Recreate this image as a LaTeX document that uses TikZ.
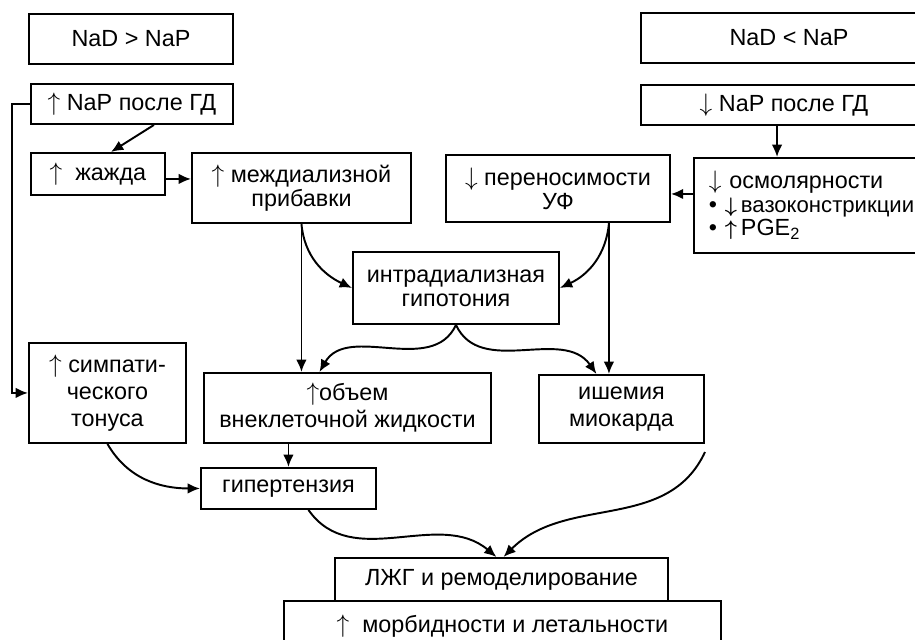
\documentclass[tikz,border=0pt]{standalone}
\usepackage{fontspec}
\setmainfont{Liberation Sans}
\usetikzlibrary{arrows.meta}
\newdimen\pxu \pxu=0.02cm
\newcommand{\upar}{$\uparrow$}
\newcommand{\dnar}{$\downarrow$}
\newcommand{\smallar}[1]{{\fontsize{12.5}{12.5}\selectfont\boldmath$#1$}}

\tikzset{
  blk/.style={draw, line width=1.1pt, anchor=north west, align=center, inner sep=2pt,
    font=\fontsize{13.3}{13.6}\selectfont},
  arr/.style={line width=1.1pt, -{Latex[length=7pt,width=6pt]}},
}

\begin{document}
\begin{tikzpicture}[x=\pxu, y=-\pxu]
  \useasboundingbox (0,0) rectangle (915,639);
  % left column: NaD > NaP
  \node[blk, minimum width=204\pxu, minimum height=50\pxu] (nadgt) at (28,13) {NaD > NaP};
  \node[blk, minimum width=202\pxu, minimum height=40\pxu] (naup) at (30,83) {\upar\ NaP после ГД};
  \node[blk, minimum width=134\pxu, minimum height=42\pxu] (thirst) at (30,152) {\upar\ \ жажда};
  \node[blk, minimum width=219\pxu, minimum height=70\pxu] (idwg) at (191,152) {\upar\ междиализной\\прибавки};
  % right column: NaD < NaP
  \node[blk, minimum width=296\pxu, minimum height=50\pxu] (nadlt) at (640,12) {NaD < NaP};
  \node[blk, minimum width=286\pxu, minimum height=40\pxu] (napdown) at (640,84) {\dnar\ NaP после ГД};
  \node[blk, align=left, inner xsep=15\pxu, text width=235\pxu, minimum height=95\pxu,
    font=\fontsize{13.3}{13.4}\selectfont] (osm) at (693,157)
    {\dnar\ осмолярности\\
     • \smallar{\downarrow}\,{\fontsize{12.6}{13}\selectfont вазоконстрикции}\\
     • \smallar{\uparrow}\,PGE\textsubscript{2}};
  \node[blk, minimum width=224\pxu, minimum height=67\pxu] (uftol) at (445,154) {\dnar\ переносимости\\УФ};
  % middle
  \node[blk, minimum width=206\pxu, minimum height=72\pxu] (idh) at (352,251) {интрадиализная\\гипотония};
  \node[blk, minimum width=157\pxu, minimum height=100\pxu, font=\fontsize{13.3}{15.3}\selectfont] (symp) at (28,342) {\upar\ симпати-\\ческого\\тонуса};
  \node[blk, minimum width=287\pxu, minimum height=70\pxu, font=\fontsize{13.3}{15.3}\selectfont] (ecv) at (203,372) {\upar объем\\внеклеточной жидкости};
  \node[blk, minimum width=165\pxu, minimum height=68\pxu, font=\fontsize{13.3}{15.3}\selectfont] (isch) at (538,374) {ишемия\\миокарда};
  \node[blk, minimum width=175\pxu, minimum height=41\pxu] (htn) at (200,467) {гипертензия};
  % bottom
  \node[blk, minimum width=333\pxu, minimum height=43\pxu] (lvh) at (334,557) {ЛЖГ и ремоделирование};
  \node[blk, minimum width=437\pxu, minimum height=50\pxu] (morb) at (283,600) {\upar\ \ морбидности и летальности};
  \coordinate (ischend) at (705,452);

  % connectors
  \draw[arr] (naup.west) -- ++(-18,0) |- (symp.west);
  \draw[arr] ([xshift=22\pxu]naup.south) -- ([xshift=13\pxu]thirst.north);
  \draw[arr] ([yshift=-5\pxu]thirst.east) -- ([yshift=-5\pxu]thirst.east -| idwg.west);
  \draw[arr] ([xshift=137\pxu]napdown.south west) -- ([xshift=84\pxu]osm.north west);
  \draw[arr] ([yshift=11.5\pxu]osm.west) -- ([yshift=-5.5\pxu]uftol.east);
  \draw[arr] (idwg.south) -- (idwg.south |- ecv.north);
  \draw[arr] (idwg.south) to[out=-85, in=155] (idh.west);
  \draw[arr] ([xshift=51\pxu]uftol.south) -- ([xshift=51\pxu]uftol.south |- isch.north);
  \draw[arr] ([xshift=51\pxu]uftol.south) to[out=-95, in=25] (idh.east);
  \draw[arr] (idh.south) to[out=-115, in=60] ([xshift=-28\pxu]ecv.north);
  \draw[arr] (idh.south) to[out=-65, in=125] ([xshift=-25\pxu]isch.north);
  \draw[arr] (htn.north |- ecv.south) -- (htn.north);
  \draw[arr] (symp.south) to[out=-60, in=180] (htn.west);
  \draw[arr] ([xshift=20\pxu]htn.south) to[out=-55, in=140] ([xshift=-5\pxu]lvh.north);
  \draw[arr] (ischend) to[out=-115, in=45] ([xshift=2\pxu]lvh.north);
\end{tikzpicture}
\end{document}
